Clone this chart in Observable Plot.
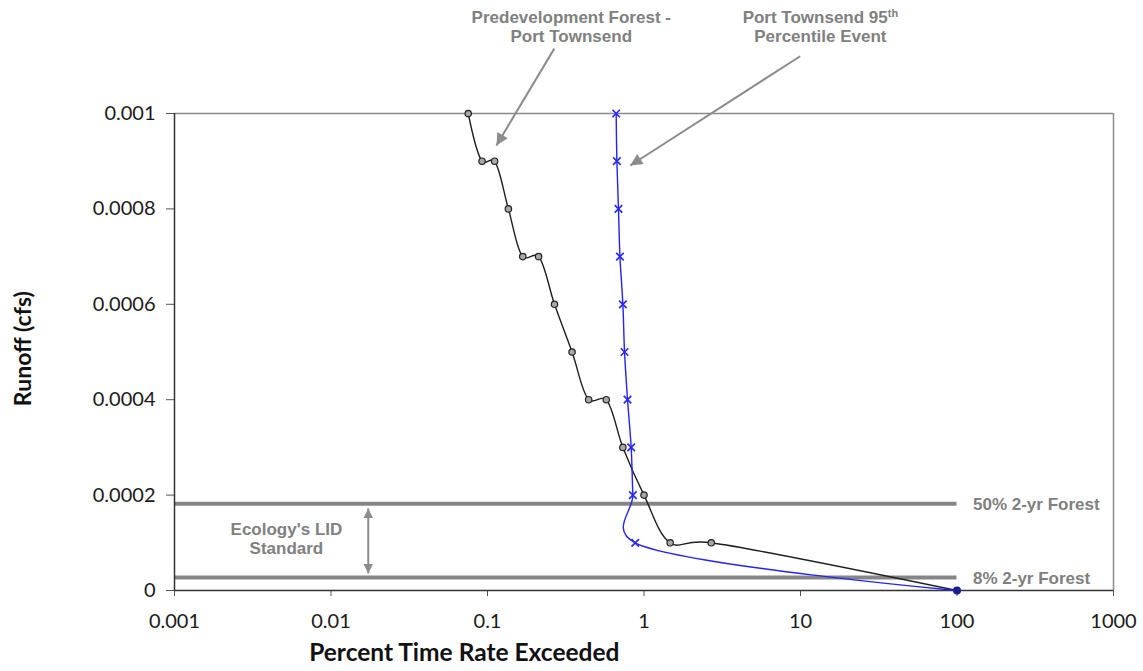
<!DOCTYPE html>
<html><head><meta charset="utf-8">
<script src="https://cdn.jsdelivr.net/npm/d3@7"></script>
<script src="https://cdn.jsdelivr.net/npm/@observablehq/plot@0.6"></script>
<style>body{margin:0;background:#fff}</style>
</head><body><div id="chart"></div>
<script>
// Predevelopment Forest - Port Townsend
const forestRunoff = [0.001,0.0009,0.0009,0.0008,0.0007,0.0007,0.0006,0.0005,0.0004,0.0004,0.0003,0.0002,0.0001,0.0001,0];
const forestPct    = [0.0753,0.0923,0.111,0.136,0.168,0.212,0.268,0.347,0.443,0.574,0.733,1.0,1.47,2.69,100];
// Port Townsend 95th Percentile Event
const eventRunoff = [0.001,0.0009,0.0008,0.0007,0.0006,0.0005,0.0004,0.0003,0.0002,0.0001,0];
const eventPct    = [0.664,0.671,0.687,0.702,0.733,0.751,0.785,0.828,0.849,0.879,100];
// axes
const xTicks = [0.001,0.01,0.1,1,10,100,1000];
const xTickLabels = ["0.001","0.01","0.1","1","10","100","1000"];
const yTicks = [0,0.0002,0.0004,0.0006,0.0008,0.001];
const yTickLabels = ["0","0.0002","0.0004","0.0006","0.0008","0.001"];
// thresholds
const thresholdNames = ["50% 2-yr Forest","8% 2-yr Forest"];
const thresholdValues = [0.000182,0.000027];

const forest = forestRunoff.map((y,i)=>({x:forestPct[i], y}));
const event = eventRunoff.map((y,i)=>({x:eventPct[i], y}));
const thresholds = thresholdValues.map((y,i)=>({y, name:thresholdNames[i]}));

const annoFont = {fontFamily:"Liberation Sans, Arial, sans-serif", fontWeight:"bold", fontSize:17, fill:"#808080", lineHeight:1.12};
const callouts = [
  {x1:0.267, y1:0.001136, x2:0.114, y2:0.000933},
  {x1:9.95, y1:0.00112, x2:0.817, y2:0.000891}
];
const lid = [{x:0.0173, y1:0.000172, y2:0.0000356}];
const smooth = d3.curveCatmullRom.alpha(0.25);

const svg = Plot.plot({
  width:1143, height:671,
  marginLeft:174, marginRight:30, marginTop:113, marginBottom:81,
  style:{fontFamily:"Lato, sans-serif", fontSize:"20px", color:"#1a1a1a", background:"#fff", overflow:"visible"},
  x:{type:"log", domain:[0.001,1000]},
  y:{domain:[0,0.001]},
  marks:[
    Plot.ruleY([0.001], {stroke:"#8a8a8a", strokeWidth:1.5}),
    Plot.ruleX([1000], {stroke:"#8a8a8a", strokeWidth:1.5}),
    Plot.ruleY(thresholds, {y:"y", x1:0.001, x2:100, stroke:"#858585", strokeWidth:4}),
    Plot.text(thresholds, {y:"y", x:100, text:"name", dx:16, textAnchor:"start", ...annoFont}),
    Plot.axisX(xTicks, {tickFormat:d=>xTickLabels[xTicks.indexOf(d)], tickSize:6, tickPadding:17, label:null, stroke:"#555"}),
    Plot.axisY(yTicks, {tickFormat:d=>yTickLabels[yTicks.indexOf(d)], tickSize:8, tickPadding:11, label:null, stroke:"#555"}),
    Plot.ruleX([0.001], {stroke:"#333", strokeWidth:1.5}),
    Plot.ruleY([0], {stroke:"#333", strokeWidth:1.5}),
    Plot.line(forest, {x:"x", y:"y", curve:smooth, stroke:"#1e1e1e", strokeWidth:1.4}),
    Plot.dot(forest.slice(0,-1), {x:"x", y:"y", r:3.2, stroke:"#222", fill:"#a8a8a8", strokeWidth:1.2}),
    Plot.line(event, {x:"x", y:"y", curve:smooth, stroke:"#2323ee", strokeWidth:1.4}),
    Plot.dot(event.slice(0,-1), {x:"x", y:"y", symbol:"times", r:3.5, stroke:"#2a2aee", strokeWidth:1.7}),
    Plot.dot(event.slice(-1), {x:"x", y:"y", r:4, fill:"#1c1c96"}),
    // annotations
    Plot.link(callouts, {x1:"x1", y1:"y1", x2:"x2", y2:"y2", stroke:"#8c8c8c", strokeWidth:2}),
    Plot.link(lid, {x1:"x", x2:"x", y1:"y1", y2:"y2", stroke:"#8c8c8c", strokeWidth:2}),
    Plot.text(["Predevelopment Forest -\nPort Townsend"], {x:0.343, y:0.0011834, textAnchor:"middle", lineAnchor:"middle", ...annoFont}),
    Plot.text(["Port Townsend 95th\nPercentile Event"], {x:13.4, y:0.0011834, textAnchor:"middle", lineAnchor:"middle", ...annoFont}),
    Plot.text(["Ecology's LID\nStandard"], {x:0.00519, y:0.000109, textAnchor:"middle", lineAnchor:"middle", ...annoFont}),
    // axis titles
    Plot.text(["Percent Time Rate Exceeded"], {x:0.0711, y:-0.000132, textAnchor:"middle", lineAnchor:"middle", fontFamily:"Lato, sans-serif", fontWeight:"bold", fontSize:24.5, fill:"#111"}),
    Plot.text(["Runoff (cfs)"], {x:0.000109, y:0.000507, rotate:-90, textAnchor:"middle", lineAnchor:"middle", fontFamily:"Lato, sans-serif", fontWeight:"bold", fontSize:23, fill:"#111"})
  ]
});

// arrowhead markers
const s = d3.select(svg);
const defs = s.insert("defs", ":first-child");
function mk(id, len, wid){
  defs.append("marker").attr("id", id).attr("viewBox","0 0 10 10").attr("refX",10).attr("refY",5)
    .attr("markerWidth", len).attr("markerHeight", wid).attr("markerUnits","userSpaceOnUse")
    .attr("orient","auto-start-reverse")
    .append("path").attr("d","M0,0L10,5L0,10Z").attr("fill","#8c8c8c");
}
mk("ahBig", 14, 12);
mk("ahSmall", 10, 13);
const linkGroups = svg.querySelectorAll('g[aria-label="link"]');
if (linkGroups[0]) d3.select(linkGroups[0]).selectAll("path, line").attr("marker-end","url(#ahBig)");
if (linkGroups[1]) d3.select(linkGroups[1]).selectAll("path, line").attr("marker-end","url(#ahSmall)").attr("marker-start","url(#ahSmall)");
// superscript "th"
function sup(el){
  el.textContent = "Port Townsend 95";
  d3.select(el).append("tspan").attr("baseline-shift","super").attr("font-size",11).text("th");
}
s.selectAll("tspan").each(function(){ if (this.textContent === "Port Townsend 95th") sup(this); });
s.selectAll("text").each(function(){ if (this.childElementCount === 0 && this.textContent === "Port Townsend 95th") sup(this); });
document.getElementById("chart").appendChild(svg);
</script>
</body></html>
